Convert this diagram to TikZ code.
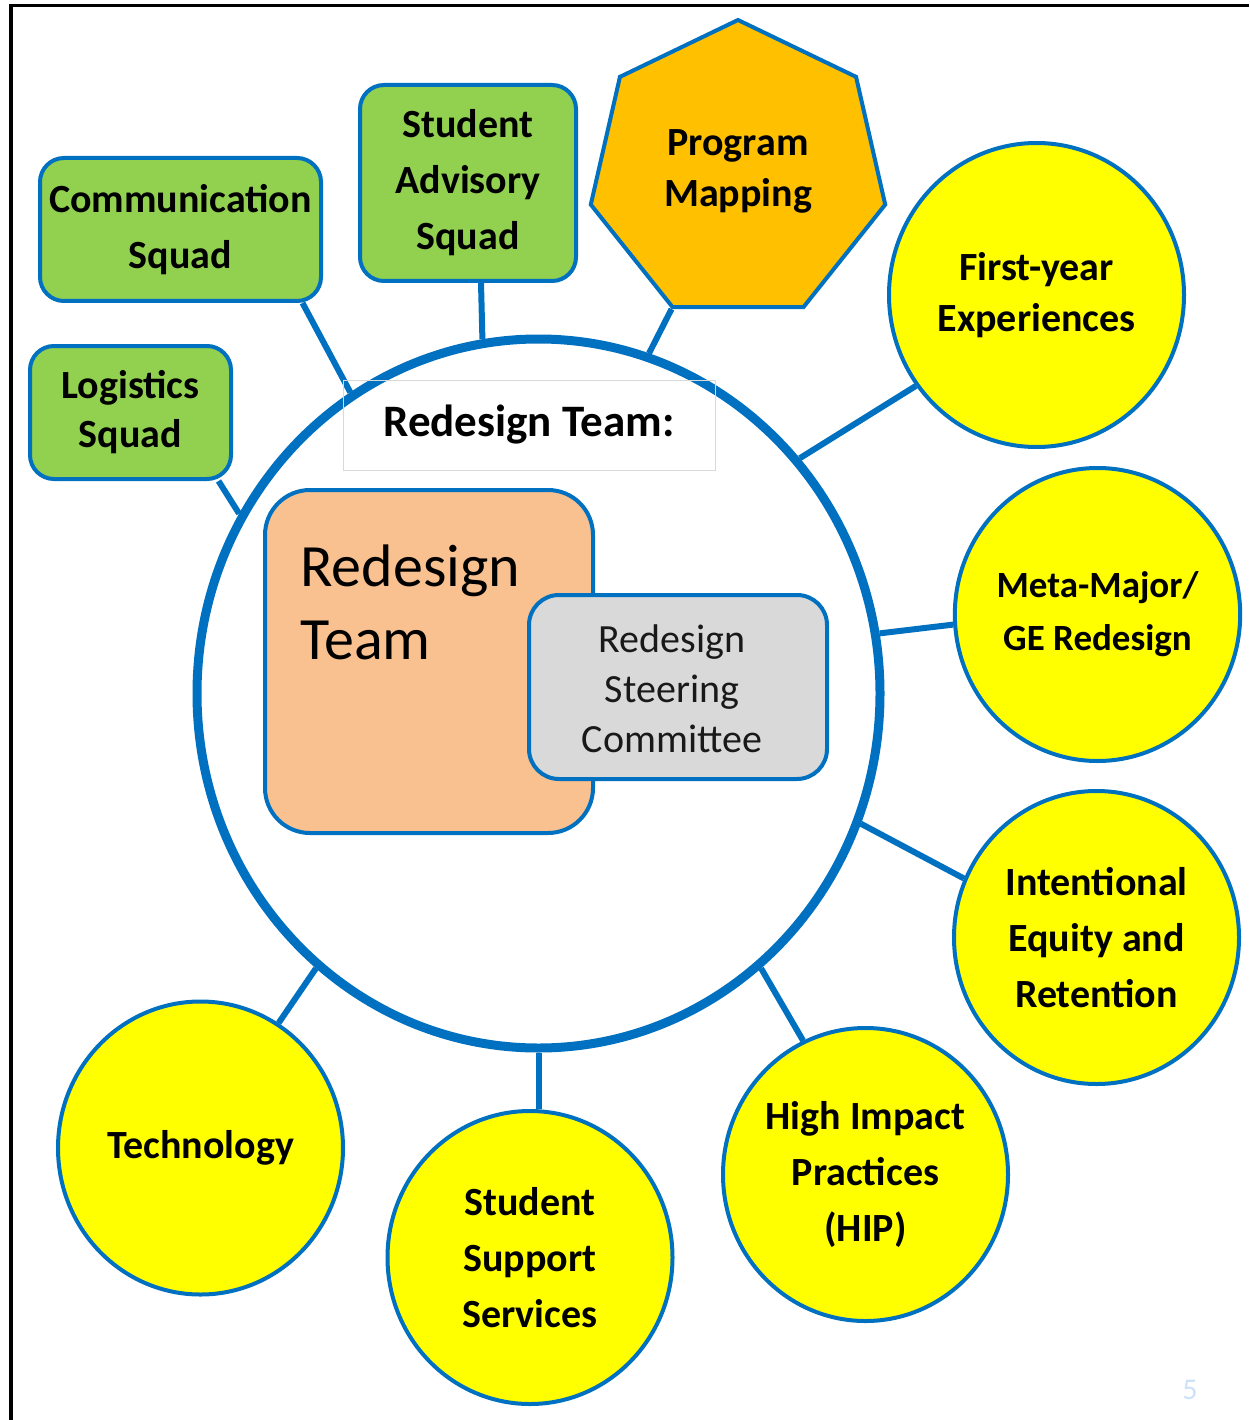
\documentclass[tikz,border=0pt]{standalone}
\usepackage{fontspec}
\setmainfont{Carlito}
\usetikzlibrary{shapes.geometric,calc}
\definecolor{myblue}{RGB}{0,112,192}
\definecolor{mygreen}{RGB}{146,208,80}
\definecolor{myorange}{RGB}{255,192,0}
\definecolor{myyellow}{RGB}{255,255,0}
\definecolor{mypeach}{RGB}{249,192,144}
\definecolor{mygray}{RGB}{217,217,217}
\definecolor{pagenum}{RGB}{205,225,248}
\begin{document}
\begin{tikzpicture}[x=1pt,y=-1pt,
  conn/.style={draw=myblue,line width=6pt},
  squad/.style={draw=myblue,line width=4pt,fill=mygreen,rounded corners=24pt,inner sep=0pt,align=center,
    font=\bfseries\fontsize{40}{56}\selectfont},
  topic/.style={ellipse,draw=myblue,line width=4pt,fill=myyellow,inner sep=0pt,align=center,
    minimum width=285pt,minimum height=293pt,font=\bfseries\fontsize{40}{56}\selectfont}]
\useasboundingbox (0,0) rectangle (1249,1420);
% frame
\draw[line width=3.5pt,black] (11,1420) -- (11,5.5) -- (1249,5.5);
% central ellipse
\node[ellipse,draw=myblue,line width=9pt,minimum width=683pt,minimum height=709pt,inner sep=0pt] (big) at (538.5,693.5) {};
% squads
\node[squad,minimum width=281pt,minimum height=143pt] (comm) at (180.5,229.5) {Communication\\Squad};
\node[squad,minimum width=216pt,minimum height=196pt] (adv) at (468,183) {\raisebox{0pt}{}Student\\Advisory\\Squad};
\node[squad,minimum width=201pt,minimum height=133pt,font=\bfseries\fontsize{40}{49}\selectfont] (log) at (130.5,412.5) {Logistics\\Squad};
% program mapping
\node[regular polygon,regular polygon sides=7,draw=myblue,line width=4pt,fill=myorange,inner sep=0pt,minimum size=302pt,align=center,
  font=\bfseries\fontsize{40}{51}\selectfont] (pm) at (738,171) {Program\\Mapping};
% topics
\node[topic,minimum width=295pt,minimum height=304pt,font=\bfseries\fontsize{40}{51}\selectfont] (fy) at (1036.5,295) {First-year\\Experiences};
\node[topic,font=\bfseries\fontsize{37}{53}\selectfont] (meta) at (1097.5,614.5) {Meta-Major/\\GE Redesign};
\node[topic] (int) at (1096.5,937.5) {Intentional\\Equity and\\Retention};
\node[topic] (hip) at (865.5,1174.5) {High Impact\\Practices\\(HIP)};
\node[topic] (ss) at (530,1257.5) {Student\\Support\\Services};
\node[topic] (tech) at (200.5,1148) {Technology};
% connectors
\draw[conn] ([xshift=122pt]comm.south) -- (big.122);
\draw[conn] ([xshift=88pt]log.south) -- (big.149.5);
\draw[conn] ([xshift=13pt]adv.south) -- (big.99.3);
\draw[conn] (pm.corner 4) -- (big.72.6);
\draw[conn] (fy.217) -- (big.42.2);
\draw[conn] (meta.184) -- (big.10.8);
\draw[conn] (int.156.3) -- (big.-22.6);
\draw[conn] (hip.115.9) -- (big.-51.4);
\draw[conn] (big.south) -- (big.south |- ss.north);
\draw[conn] (tech.58.2) -- (big.231.5);
% inner content
\node[draw=black!15,line width=1pt,minimum width=372pt,minimum height=90pt,inner sep=0pt,
  font=\bfseries\fontsize{45}{54}\selectfont] (lbl) at (529,425) {Redesign Team:};
\node[draw=myblue,line width=4pt,fill=mypeach,rounded corners=45pt,minimum width=328pt,minimum height=343pt,inner sep=0pt] (rt) at (429,661.5) {};
\node[anchor=north west,inner sep=0pt,align=left,font=\fontsize{60}{73}\selectfont] (rtt) at ([xshift=37pt,yshift=-57pt]rt.north west) {Redesign\\Team};
\node[draw=myblue,line width=4pt,fill=mygray,rounded corners=30pt,minimum width=298pt,minimum height=184pt,inner sep=0pt] (rsc) at (678,687) {};
\node[align=center,inner sep=0pt,text=black!90,font=\fontsize{40}{50}\selectfont] (rsct) at ([xshift=-6pt,yshift=-2pt]rsc.center) {Redesign\\Steering\\Committee};
% page number
\node[text=pagenum,font=\fontsize{30}{36}\selectfont,inner sep=0pt] (pg) at (1190,1390) {5};
\end{tikzpicture}
\end{document}
